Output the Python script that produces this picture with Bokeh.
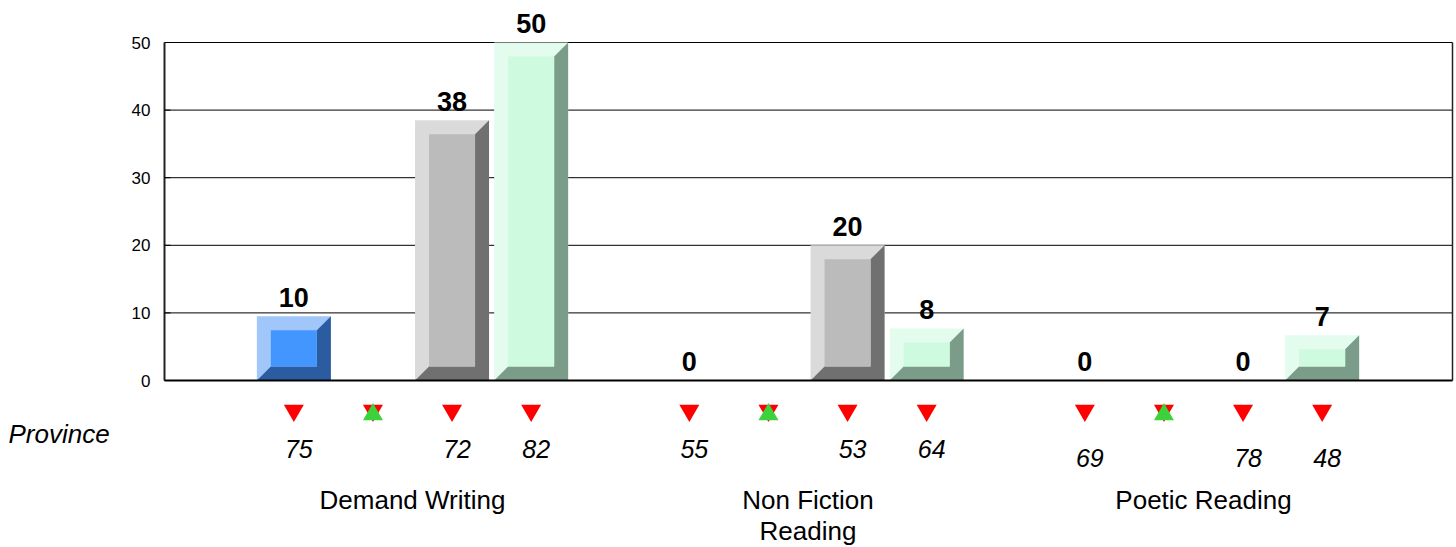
from bokeh.plotting import figure
from bokeh.models import Range1d
from bokeh.core.properties import value
from bokeh.embed import file_html
from bokeh.resources import INLINE

# ---------------- data ----------------
categories = ["Demand Writing", "Non Fiction\nReading", "Poetic Reading"]
y_ticks = [0, 10, 20, 30, 40, 50]
y_tick_labels = ["0", "10", "20", "30", "40", "50"]
row_label = "Province"

bar_blue = [9.5, 0.0, 0.0]
bar_hidden = [0.0, 0.0, 0.0]
bar_gray = [38.5, 20.0, 0.0]
bar_green = [50.0, 7.7, 6.7]

lab_blue = ["10", "0", "0"]
lab_hidden = ["", "", ""]
lab_gray = ["38", "20", "0"]
lab_green = ["50", "8", "7"]

prov_blue = ["75", "55", "69"]
prov_hidden = ["", "", ""]
prov_gray = ["72", "53", "78"]
prov_green = ["82", "64", "48"]

trend_down = [True, True, True, True]    # per series
trend_up = [False, True, False, False]   # per series

# ---------------- styles / layout ----------------
W, H = 1456, 547
ORIGIN_X, ORIGIN_Y = 412, 380   # pixel position of (category 0, value 0)
PX_X = 395.5    # pixels per category unit
PX_Y = 6.76     # pixels per value unit
OFFSETS = [-0.3, -0.1, 0.1, 0.3]
BAR_W = 74 / PX_X
BEV_X = 14 / PX_X
BEV_Y = 14 / PX_Y
FONT = "Liberation Sans"

series = [
    (bar_blue, lab_blue, prov_blue, ("#A0C6FA", "#4496FF", "#2B5C9F")),
    (bar_hidden, lab_hidden, prov_hidden, ("#FFFFFF", "#FFFFFF", "#FFFFFF")),
    (bar_gray, lab_gray, prov_gray, ("#DADADA", "#BBBBBB", "#707070")),
    (bar_green, lab_green, prov_green, ("#E3FCEE", "#CEFADF", "#7B9C89")),
]

def px_x(px):
    return (px - ORIGIN_X) / PX_X

def below(px):
    """pixel distance below the zero line -> data units"""
    return -px / PX_Y

x_start, x_end = px_x(0), px_x(W)
y_start, y_end = below(H - ORIGIN_Y), ORIGIN_Y / PX_Y
ax_left = px_x(164)
ax_right = px_x(1452)
y_max = y_ticks[-1]

p = figure(width=W, height=H, output_backend="svg", toolbar_location=None,
           x_range=Range1d(x_start, x_end), y_range=Range1d(y_start, y_end),
           x_axis_location=None, y_axis_location=None,
           min_border=0)
p.outline_line_color = None
p.xgrid.visible = False
p.ygrid.visible = False

# gridlines
p.segment(x0=[ax_left] * len(y_ticks), y0=y_ticks, x1=[ax_right] * len(y_ticks), y1=y_ticks,
          line_color="#000000", line_width=1)

# ---------------- bars (bevelled) ----------------
for s, (vals, labs, provs, (light, face, dark)) in enumerate(series):
    ox0, ox1, oy1 = [], [], []
    ix0, ix1, iy0, iy1 = [], [], [], []
    dxs, dys = [], []
    for i, v in enumerate(vals):
        if v <= 0:
            continue
        c = i + OFFSETS[s]
        x0, x1 = c - BAR_W / 2, c + BAR_W / 2
        ox0.append(x0); ox1.append(x1); oy1.append(v)
        dxs.append([x0, x1, x1, x1 - BEV_X, x1 - BEV_X, x0 + BEV_X])
        dys.append([0, 0, v, v - BEV_Y, BEV_Y, BEV_Y])
        ix0.append(x0 + BEV_X); ix1.append(x1 - BEV_X)
        iy0.append(BEV_Y); iy1.append(v - BEV_Y)
    if ox0:
        p.quad(left=ox0, right=ox1, bottom=[0] * len(ox0), top=oy1,
               fill_color=light, line_color=None)
        p.patches(dxs, dys, fill_color=dark, line_color=None)
        p.quad(left=ix0, right=ix1, bottom=iy0, top=iy1,
               fill_color=face, line_color=None)

# axis lines, border, ticks
p.segment(x0=[ax_left], y0=[0], x1=[ax_right], y1=[0], line_color="#000000", line_width=2)
p.segment(x0=[ax_left], y0=[0], x1=[ax_left], y1=[y_max], line_color="#222222", line_width=2)
p.segment(x0=[ax_right], y0=[0], x1=[ax_right], y1=[y_max], line_color="#222222", line_width=1.5)
p.segment(x0=[ax_left] * len(y_ticks), y0=y_ticks, x1=[px_x(170)] * len(y_ticks), y1=y_ticks,
          line_color="#000000", line_width=1)
p.text(x=[px_x(150)] * len(y_ticks), y=y_ticks, text=y_tick_labels, text_font=value(FONT),
       text_font_size="17px", text_align="right", text_baseline="middle", text_color="#000000")

# ---------------- value labels ----------------
lx, ly, lt = [], [], []
for s, (vals, labs, provs, cols) in enumerate(series):
    for i, t in enumerate(labs):
        if t:
            lx.append(i + OFFSETS[s]); ly.append(vals[i] + 19 / PX_Y); lt.append(t)
p.text(x=lx, y=ly, text=lt, text_font=value(FONT), text_font_style="bold",
       text_font_size="27px", text_align="center", text_baseline="middle",
       text_color="#000000")

# ---------------- trend markers ----------------
mdx, mux = [], []
for s in range(4):
    for i in range(len(categories)):
        if trend_down[s]:
            mdx.append(i + OFFSETS[s])
        if trend_up[s]:
            mux.append(i + OFFSETS[s])
p.scatter(x=mdx, y=[below(30)] * len(mdx), marker="inverted_triangle", size=20,
          fill_color="#FF0000", line_color=None)
p.scatter(x=mux, y=[below(34)] * len(mux), marker="triangle", size=20,
          fill_color="#3CD23C", line_color=None)

# ---------------- province values ----------------
group_drop = [68, 68, 77]
px_, py_, pt_ = [], [], []
for s, (vals, labs, provs, cols) in enumerate(series):
    for i, t in enumerate(provs):
        if t:
            px_.append(i + OFFSETS[s] + 5 / PX_X); py_.append(below(group_drop[i])); pt_.append(t)
p.text(x=px_, y=py_, text=pt_, text_font=value(FONT), text_font_style="italic",
       text_font_size="25px", text_align="center", text_baseline="middle",
       text_color="#000000")

# ---------------- category labels ----------------
p.text(x=list(range(len(categories))), y=[below(104)] * len(categories), text=categories,
       text_font=value(FONT), text_font_size="26px", text_align="center",
       text_baseline="top", text_line_height=1.05, text_color="#000000")

p.text(x=[px_x(8)], y=[below(53)], text=[row_label], text_font=value(FONT),
       text_font_style="italic", text_font_size="26px", text_align="left",
       text_baseline="middle", text_color="#000000")

open("out.html", "w").write(file_html(p, INLINE))
